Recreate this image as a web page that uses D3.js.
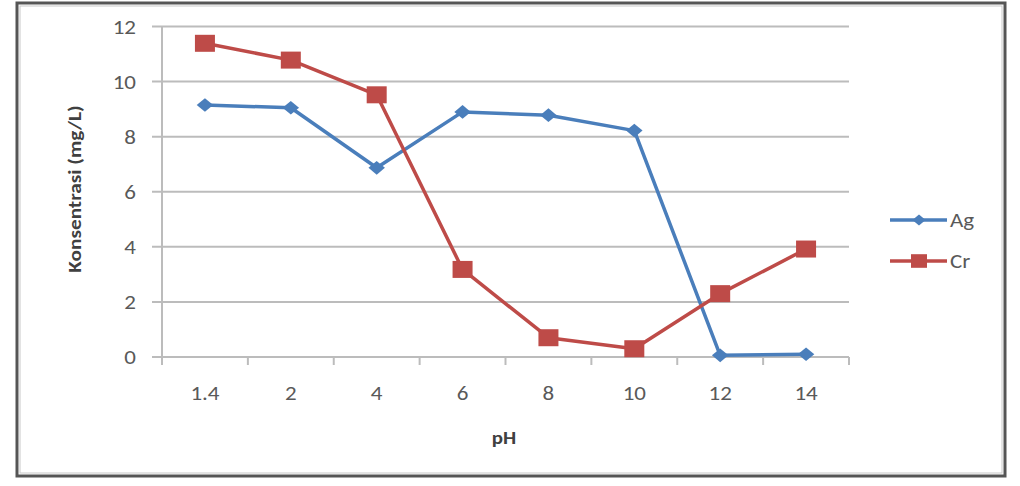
<!DOCTYPE html>
<html>
<head>
<meta charset="utf-8">
<script src="https://cdn.jsdelivr.net/npm/d3@7"></script>
<style>
  body { margin: 0; background: #fff; }
  text { font-family: Carlito, Calibri, Lato, "Liberation Sans", sans-serif; }
</style>
</head>
<body>
<div id="graph"></div>
<script>
const w = 1020;
const h = 486;

// data
const phLabels = ['1.4', '2', '4', '6', '8', '10', '12', '14'];
const agValues = [9.15, 9.05, 6.87, 8.9, 8.78, 8.22, 0.06, 0.1];
const crValues = [11.39, 10.78, 9.52, 3.18, 0.7, 0.3, 2.3, 3.92];
const yTicks = [0, 2, 4, 6, 8, 10, 12];

const series = [
  { name: 'Ag', values: agValues, color: '#4a7ebb', marker: 'diamond' },
  { name: 'Cr', values: crValues, color: '#be4b48', marker: 'square' }
];

const plotLeft = 162, plotRight = 849, plotTop = 26.5, plotBottom = 357;

const xScale = d3.scaleBand()
                 .domain(phLabels)
                 .range([plotLeft, plotRight]);

const yScale = d3.scaleLinear()
                 .domain([0, 12])
                 .range([plotBottom, plotTop]);

const svg = d3.select('#graph')
              .append('svg')
              .attr('width', w)
              .attr('height', h);

// outer frame
svg.append('rect')
   .attr('x', 17).attr('y', 3)
   .attr('width', 988).attr('height', 473)
   .attr('fill', 'none')
   .attr('stroke', '#555')
   .attr('stroke-width', 3);
svg.append('rect')
   .attr('x', 20).attr('y', 6)
   .attr('width', 982).attr('height', 467)
   .attr('fill', 'none')
   .attr('stroke', '#c8c8c8')
   .attr('stroke-width', 1);

// gridlines
svg.append('g')
   .selectAll('line')
   .data(yTicks)
   .enter()
   .append('line')
   .attr('x1', plotLeft - 10)
   .attr('x2', plotRight)
   .attr('y1', (d) => yScale(d))
   .attr('y2', (d) => yScale(d))
   .attr('stroke', '#bcbcbc')
   .attr('stroke-width', 2);

// y axis line
svg.append('line')
   .attr('x1', plotLeft).attr('x2', plotLeft)
   .attr('y1', plotTop).attr('y2', plotBottom)
   .attr('stroke', '#bcbcbc')
   .attr('stroke-width', 2);

// x tick marks between categories
const tickPos = phLabels.map((d) => xScale(d)).concat([plotRight]);
svg.append('g')
   .selectAll('line')
   .data(tickPos)
   .enter()
   .append('line')
   .attr('x1', (d) => d).attr('x2', (d) => d)
   .attr('y1', plotBottom).attr('y2', plotBottom + 8)
   .attr('stroke', '#bcbcbc')
   .attr('stroke-width', 2);

// y tick labels
svg.append('g')
   .selectAll('text')
   .data(yTicks)
   .enter()
   .append('text')
   .attr('transform', (d) => 'translate(136,' + yScale(d) + ') scale(1.15,1)')
   .attr('dy', '0.35em')
   .attr('text-anchor', 'end')
   .style('font-size', '20px')
   .style('fill', '#595959')
   .text((d) => d);

// x tick labels
svg.append('g')
   .selectAll('text')
   .data(phLabels)
   .enter()
   .append('text')
   .attr('transform', (d) => 'translate(' + (xScale(d) + xScale.bandwidth() / 2) + ',400) scale(1.15,1)')
   .attr('text-anchor', 'middle')
   .style('font-size', '20px')
   .style('fill', '#595959')
   .text((d) => d);

// axis titles
svg.append('text')
   .attr('transform', 'translate(504,444) scale(1.1,1)')
   .attr('text-anchor', 'middle')
   .style('font-size', '19px')
   .style('font-weight', 'bold')
   .style('fill', '#404040')
   .text('pH');

svg.append('text')
   .attr('text-anchor', 'middle')
   .attr('transform', 'translate(81,' + 189 + ')rotate(-90) scale(1.12,1)')
   .style('font-size', '19px')
   .style('font-weight', 'bold')
   .style('fill', '#404040')
   .text('Konsentrasi (mg/L)');

const cx = (i) => xScale(phLabels[i]) + xScale.bandwidth() / 2;

function drawMarker(g, s, x, y, k) {
  if (s.marker === 'diamond') {
    g.append('path')
     .attr('d', d3.symbol().type(d3.symbolDiamond2).size(120 * k * k)())
     .attr('transform', 'translate(' + x + ',' + y + ') scale(1.2,1)')
     .attr('fill', s.color);
  } else {
    g.append('rect')
     .attr('x', x - 10 * k).attr('y', y - 8.5 * k)
     .attr('width', 20 * k).attr('height', 17 * k)
     .attr('fill', s.color);
  }
}

series.forEach(function (s) {
  svg.append('path')
     .datum(s.values)
     .attr('fill', 'none')
     .attr('stroke', s.color)
     .attr('stroke-width', 3.5)
     .attr('stroke-linejoin', 'round')
     .attr('d', d3.line()
                  .x((d, i) => cx(i))
                  .y((d) => yScale(d)));

  const g = svg.append('g');
  s.values.forEach(function (v, i) {
    drawMarker(g, s, cx(i), yScale(v), 1);
  });
});

// legend
const legY = [220, 261];
series.forEach(function (s, i) {
  const g = svg.append('g');
  g.append('line')
   .attr('x1', 890).attr('x2', 947)
   .attr('y1', legY[i]).attr('y2', legY[i])
   .attr('stroke', s.color)
   .attr('stroke-width', 3.5);
  drawMarker(g, s, 919, legY[i], 0.8);
  g.append('text')
   .attr('transform', 'translate(950,' + legY[i] + ') scale(1.15,1)')
   .attr('dy', '0.35em')
   .style('font-size', '20px')
   .style('fill', '#595959')
   .text(s.name);
});
</script>
</body>
</html>
